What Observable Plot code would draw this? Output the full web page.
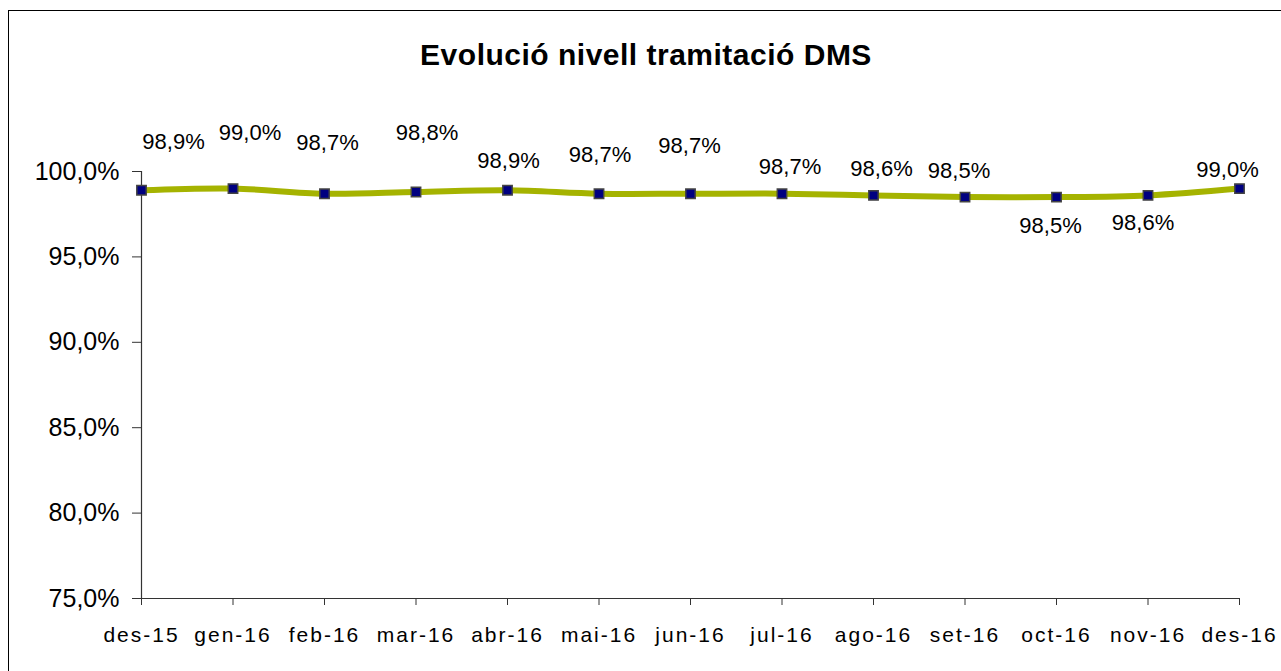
<!DOCTYPE html>
<html>
<head>
<meta charset="utf-8">
<script src="https://cdn.jsdelivr.net/npm/d3@7"></script>
<script src="https://cdn.jsdelivr.net/npm/@observablehq/plot@0.6"></script>
<style>
  html, body { margin: 0; padding: 0; background: #fff; overflow: hidden; width: 1281px; height: 671px; }
  #wrap { position: relative; width: 1281px; height: 671px; }
  #border { position: absolute; left: 8px; top: 10px; width: 1300px; height: 700px; border: 1px solid #000; box-sizing: border-box; }
  #title { position: absolute; top: 40px; left: 646px; transform: translateX(-50%); white-space: nowrap;
           font-family: "Liberation Sans", Arial, sans-serif; font-weight: bold; font-size: 30px; line-height: 30px; color: #000; letter-spacing: 0.5px; }
  #chart { position: absolute; left: 0; top: 0; }
  #chart g[aria-label="x-axis tick label"] text { letter-spacing: 2px; }
</style>
</head>
<body>
<div id="wrap">
  <div id="border"></div>
  <div id="chart"></div>
  <div id="title">Evolució nivell tramitació DMS</div>
</div>
<script>
const months = ["des-15","gen-16","feb-16","mar-16","abr-16","mai-16","jun-16","jul-16","ago-16","set-16","oct-16","nov-16","des-16"];
const values = [98.9, 99.0, 98.7, 98.8, 98.9, 98.7, 98.7, 98.7, 98.6, 98.5, 98.5, 98.6, 99.0];
const yTicks = [75, 80, 85, 90, 95, 100];
// label placement offsets (px) relative to each point
const labelDx = [32, 17, 3, 11, 1, 1, -1, 8, 8, -6, -6, -5, -12];
const labelDy = [-48, -56, -51, -59, -29, -39, -48, -27, -26, -26, 29, 28, -19];

const data = months.map((m, i) => ({month: m, value: values[i]}));
const fmt = v => v.toFixed(1).replace(".", ",") + "%";

const font = '"Liberation Sans", Arial, sans-serif';

const labelMarks = data.map((d, i) => Plot.text([d], {
  x: "month", y: "value", text: d => fmt(d.value),
  dx: labelDx[i], dy: labelDy[i], fontSize: 22, fill: "#000"
}));

const chart = Plot.plot({
  width: 1281,
  height: 671,
  marginLeft: 141,
  marginRight: 42,
  marginTop: 171,
  marginBottom: 73,
  style: {fontFamily: font, background: "transparent", overflow: "visible"},
  x: {type: "point", domain: months, padding: 0, round: false, label: null},
  y: {domain: [75, 100], label: null},
  marks: [
    Plot.axisY({ticks: yTicks, tickFormat: fmt, tickSize: 9, tickPadding: 13, fontSize: 25, stroke: "#333", fill: "#000", label: null}),
    Plot.axisX({tickSize: 7, tickPadding: 22, fontSize: 21, stroke: "#333", fill: "#000", label: null}),
    Plot.ruleY([75], {stroke: "#333", strokeWidth: 1.2}),
    Plot.ruleX([months[0]], {y1: 75, y2: 100, stroke: "#333", strokeWidth: 1.2}),
    Plot.line(data, {x: "month", y: "value", stroke: "#a5b300", strokeWidth: 6, curve: "catmull-rom"}),
    Plot.dot(data, {x: "month", y: "value", symbol: "square", r: 5.3, fill: "#000080", stroke: "#444", strokeWidth: 1.5}),
    ...labelMarks
  ]
});
document.getElementById("chart").appendChild(chart);
</script>
</body>
</html>
